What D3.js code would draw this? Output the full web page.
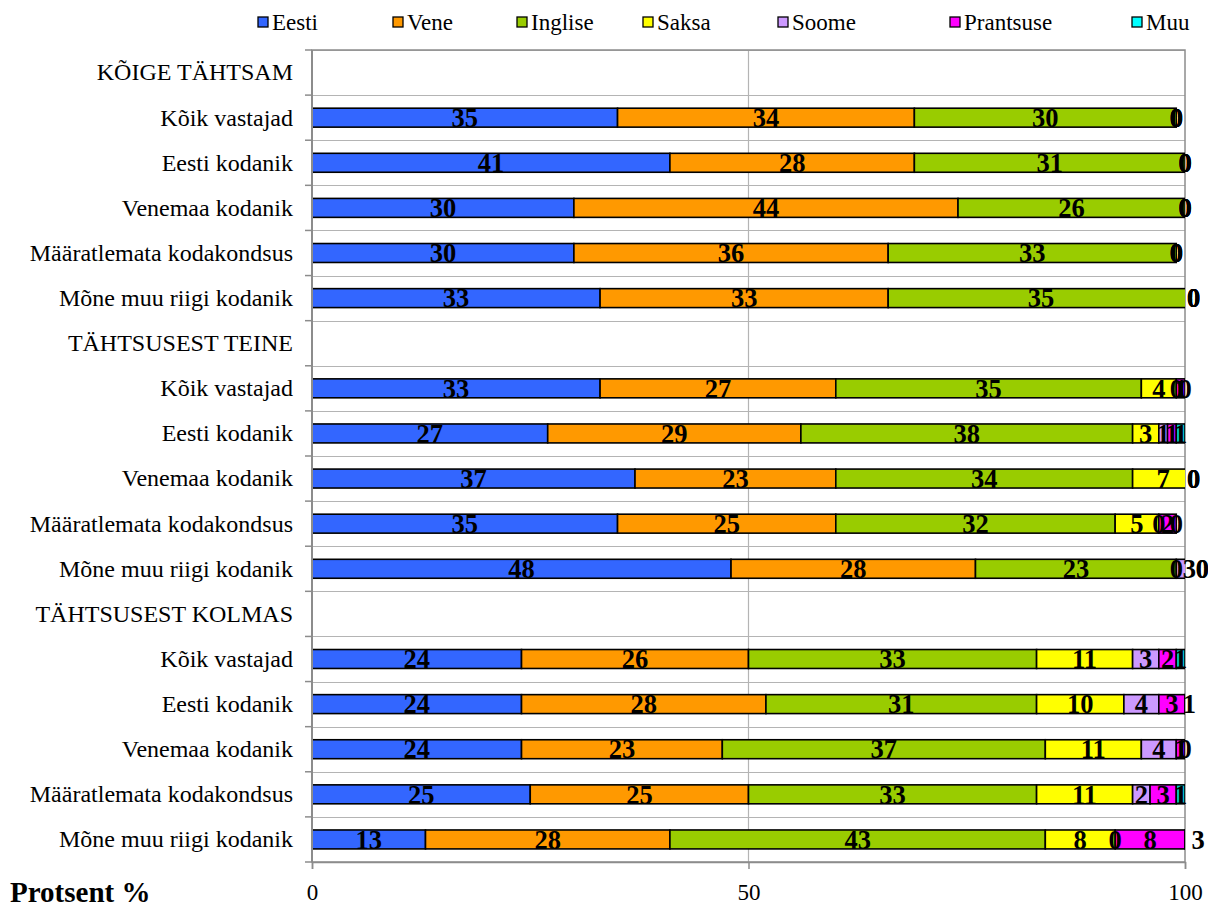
<!DOCTYPE html>
<html>
<head>
<meta charset="utf-8">
<script src="https://cdn.jsdelivr.net/npm/d3@7"></script>
<style>
  html, body { margin: 0; padding: 0; background: #fff; }
  svg { display: block; font-family: "Liberation Serif", "Times New Roman", serif; }
</style>
</head>
<body>
<svg id="chart" width="1208" height="908"></svg>
<script>
// ---- data ----
const categories = [
  "KÕIGE TÄHTSAM", "Kõik vastajad", "Eesti kodanik", "Venemaa kodanik", "Määratlemata kodakondsus", "Mõne muu riigi kodanik",
  "TÄHTSUSEST TEINE", "Kõik vastajad", "Eesti kodanik", "Venemaa kodanik", "Määratlemata kodakondsus", "Mõne muu riigi kodanik",
  "TÄHTSUSEST KOLMAS", "Kõik vastajad", "Eesti kodanik", "Venemaa kodanik", "Määratlemata kodakondsus", "Mõne muu riigi kodanik"
];
const seriesNames = ["Eesti", "Vene", "Inglise", "Saksa", "Soome", "Prantsuse", "Muu"];
const eesti     = [null, 35, 41, 30, 30, 33, null, 33, 27, 37, 35, 48, null, 24, 24, 24, 25, 13];
const vene      = [null, 34, 28, 44, 36, 33, null, 27, 29, 23, 25, 28, null, 26, 28, 23, 25, 28];
const inglise   = [null, 30, 31, 26, 33, 35, null, 35, 38, 34, 32, 23, null, 33, 31, 37, 33, 43];
const saksa     = [null,  0,  0,  0,  0,  0, null,  4,  3,  7,  5,  0, null, 11, 10, 11, 11,  8];
const soome     = [null,  0,  0,  0,  0,  0, null,  0,  1,  0,  0,  3, null,  3,  4,  4,  2,  0];
const prantsuse = [null,  0,  0,  0,  0,  0, null,  1,  1,  0,  2,  0, null,  2,  3,  1,  3,  8];
const muu       = [null,  0,  0,  0,  0,  0, null,  0,  1,  0,  0,  0, null,  1,  1,  0,  1,  3];
const xTicks = [0, 50, 100];
const axisTitle = "Protsent %";

const seriesValues = [eesti, vene, inglise, saksa, soome, prantsuse, muu];
const colors = ["#3366FF", "#FF9900", "#99CC00", "#FFFF00", "#CC99FF", "#FF00FF", "#00CCCC"];
const legendColors = ["#3366FF", "#FF9900", "#99CC00", "#FFFF00", "#CC99FF", "#FF00FF", "#00FFFF"];

// ---- layout ----
const margin = { left: 312, top: 50, right: 23, bottom: 46 };
const W = 1208, H = 908;
const width = W - margin.left - margin.right;   // 873
const height = H - margin.top - margin.bottom;  // 812
const SERIF = "Liberation Serif, Times New Roman, serif";

const svg = d3.select("#chart");
const g = svg.append("g").attr("transform", `translate(${margin.left},${margin.top})`);

const rows = categories.map((c, i) => {
  const o = { idx: i, cat: c, header: eesti[i] === null };
  seriesNames.forEach((s, k) => { o[s] = seriesValues[k][i] === null ? 0 : seriesValues[k][i]; });
  return o;
});

const x = d3.scaleLinear().domain([0, 100]).range([0, width]);
const y = d3.scaleBand().domain(d3.range(categories.length)).range([0, height]).padding(0);

const stack = d3.stack().keys(seriesNames);
const stacked = stack(rows);

// gridlines (horizontal at band boundaries)
const boundaries = d3.range(categories.length + 1).map(i => i * y.step());
g.append("g").selectAll("line").data(boundaries).join("line")
  .attr("x1", 0).attr("x2", width)
  .attr("y1", d => Math.round(d) + 0.5).attr("y2", d => Math.round(d) + 0.5)
  .attr("stroke", "#b4b4b4").attr("stroke-width", 1.2);

// vertical gridlines
g.append("g").selectAll("line").data(xTicks.filter(t => t > 0 && t < 100)).join("line")
  .attr("x1", d => x(d)).attr("x2", d => x(d))
  .attr("y1", 0).attr("y2", height)
  .attr("stroke", "#b4b4b4").attr("stroke-width", 1.2);

// plot frame
g.append("rect").attr("x", 0).attr("y", 0).attr("width", width).attr("height", height)
  .attr("fill", "none").attr("stroke", "#8c8c8c").attr("stroke-width", 1.5);

// clip for bars
svg.append("defs").append("clipPath").attr("id", "plotclip")
  .append("rect").attr("x", -2).attr("y", -2).attr("width", width + 2).attr("height", height + 4);

const barH = y.bandwidth() * 0.42;
const bars = g.append("g").attr("clip-path", "url(#plotclip)");
stacked.forEach((layer, k) => {
  bars.append("g").selectAll("rect")
    .data(layer.filter(d => !d.data.header && d[1] - d[0] > 0))
    .join("rect")
    .attr("x", d => x(d[0]))
    .attr("width", d => x(d[1]) - x(d[0]))
    .attr("y", d => y(d.data.idx) + (y.bandwidth() - barH) / 2)
    .attr("height", barH)
    .attr("fill", colors[k])
    .attr("stroke", "#000")
    .attr("stroke-width", 1.6);
});

// data labels
const labels = g.append("g");
stacked.forEach((layer, k) => {
  labels.append("g").selectAll("text")
    .data(layer.filter(d => !d.data.header))
    .join("text")
    .attr("x", d => x((d[0] + d[1]) / 2))
    .attr("y", d => y(d.data.idx) + y.bandwidth() / 2)
    .attr("dy", "0.35em")
    .attr("text-anchor", "middle")
    .attr("font-family", SERIF)
    .attr("font-weight", "bold")
    .attr("font-size", 26.5)
    .attr("fill", "#000")
    .text(d => d.data[seriesNames[k]]);
});

// left axis
const yAxis = d3.axisLeft(y).tickSize(0).tickFormat(i => categories[i]);
const ya = g.append("g").call(yAxis).attr("font-family", SERIF);
ya.select(".domain").remove();
ya.selectAll("text").attr("x", -19).attr("dy", "0.33em").attr("font-size", 24).attr("font-family", SERIF).attr("fill", "#000");
// left tick marks at boundaries
g.append("g").selectAll("line").data(boundaries).join("line")
  .attr("x1", -7).attr("x2", 0)
  .attr("y1", d => d).attr("y2", d => d)
  .attr("stroke", "#8c8c8c").attr("stroke-width", 1.5);
g.append("line").attr("x1", 0).attr("x2", 0).attr("y1", 0).attr("y2", height)
  .attr("stroke", "#8c8c8c").attr("stroke-width", 2);

// bottom axis
const xAxis = d3.axisBottom(x).tickValues(xTicks).tickSize(7).tickPadding(15);
const xa = g.append("g").attr("transform", `translate(0,${height})`).call(xAxis).attr("font-family", SERIF);
xa.select(".domain").attr("stroke", "#8c8c8c").attr("stroke-width", 1.5);
xa.selectAll(".tick line").attr("stroke", "#8c8c8c").attr("stroke-width", 1.5);
xa.selectAll("text").attr("font-size", 23).attr("font-family", SERIF).attr("fill", "#000");

// axis title
svg.append("text").attr("x", 10).attr("y", 902)
  .attr("font-family", SERIF)
  .attr("font-size", 29).attr("font-weight", "bold").attr("fill", "#000")
  .text(axisTitle);

// legend
const legendX = [258, 393, 517, 643, 778, 950, 1132];
const legend = svg.append("g");
seriesNames.forEach((s, k) => {
  const lg = legend.append("g").attr("transform", `translate(${legendX[k]},22)`);
  lg.append("rect").attr("x", 0).attr("y", -5).attr("width", 10).attr("height", 10)
    .attr("fill", legendColors[k]).attr("stroke", "#000").attr("stroke-width", 1.3);
  lg.append("text").attr("x", 14).attr("y", 0).attr("dy", "0.33em")
    .attr("font-family", SERIF)
    .attr("font-size", 23).attr("fill", "#000").text(s);
});
</script>
</body>
</html>
